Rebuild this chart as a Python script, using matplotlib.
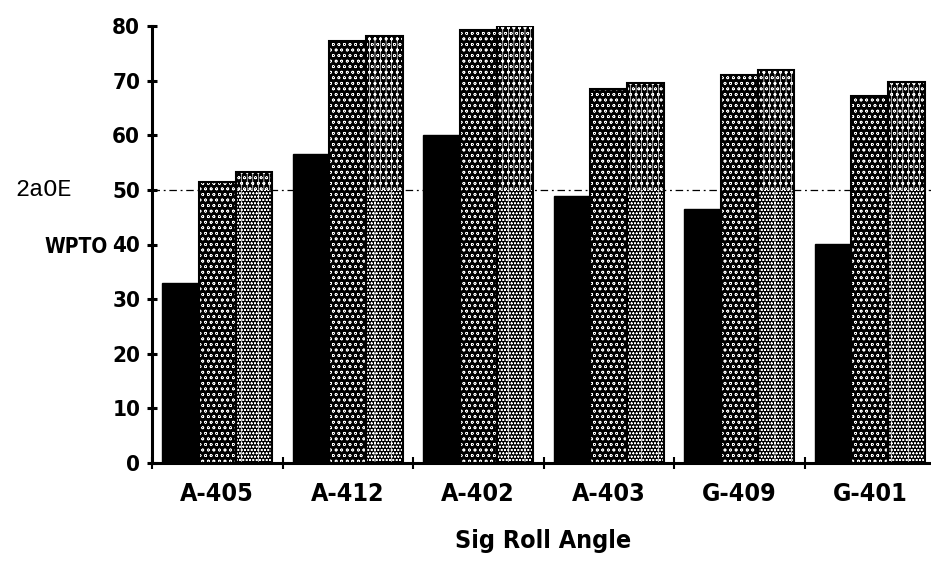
import matplotlib
matplotlib.use('Agg')
import matplotlib.pyplot as plt
import numpy as np

# values
categories = ['A-405', 'A-412', 'A-402', 'A-403', 'G-409', 'G-401']
solid_vals = [33.0, 56.6, 60.1, 48.8, 46.5, 40.1]
dark_vals = [51.5, 77.3, 79.2, 68.4, 71.1, 67.1]
light_vals = [53.2, 78.2, 80.0, 69.5, 72.0, 69.8]
ref_level = 50
ref_label = '2aOE'
y_ticks = [0, 10, 20, 30, 40, 50, 60, 70, 80]

plt.rcParams['hatch.linewidth'] = 0.45
narrow = dict(family=['Liberation Sans Narrow', 'DejaVu Sans'],
              fontweight='bold', fontstretch='condensed')

W, H = 931, 567
fig = plt.figure(figsize=(W / 100, H / 100), dpi=100)
ax = fig.add_axes([152 / W, 104 / H, 6 * 130.5 / W, 437 / H])

x = np.arange(len(categories))
bw = 0.281

# solid black bars
ax.bar(x - bw, solid_vals, bw, color='black', edgecolor='black', linewidth=1, zorder=3)

# dark dotted bars
ax.bar(x, dark_vals, bw, color='black', edgecolor='white', hatch='ooo', linewidth=0, zorder=3)
ax.bar(x, dark_vals, bw, fill=False, edgecolor='black', linewidth=1.5, zorder=4)

# light bars: streaky texture above the reference line, denser below
ax.bar(x + bw, light_vals, bw, color='black', edgecolor='white', hatch='|||ooo', linewidth=0, zorder=3)
low = np.minimum(light_vals, ref_level)
ax.bar(x + bw, low, bw, color='black', edgecolor='white', hatch='|ooooo', linewidth=0, zorder=3)
ax.bar(x + bw, light_vals, bw, fill=False, edgecolor='black', linewidth=1.5, zorder=4)

# reference line
ax.axhline(ref_level, color='black', linewidth=0.9, linestyle=(0, (6, 3, 1.5, 3)), zorder=1)

ax.set_xlim(-0.5, len(categories) - 0.5)
ax.set_ylim(0, 80)

for s in ['top', 'right']:
    ax.spines[s].set_visible(False)
for s in ['left', 'bottom']:
    ax.spines[s].set_linewidth(2.2)

ax.set_yticks(y_ticks)
ax.set_yticklabels([str(v) for v in y_ticks], fontsize=16, **narrow)
ax.tick_params(axis='y', direction='inout', length=7, width=2.2, pad=5)

ax.set_xticks(np.arange(len(categories) + 1) - 0.5)
ax.set_xticklabels([])
ax.tick_params(axis='x', which='major', direction='inout', length=9, width=1.5)
ax.set_xticks(x, minor=True)
ax.set_xticklabels(categories, minor=True, fontsize=18, **narrow)
ax.tick_params(axis='x', which='minor', length=0, pad=14)

fig.text(108 / W, 1 - 247 / H, 'WPTO', ha='right', va='center', fontsize=15, **narrow)
fig.text(44 / W, 1 - 190 / H, ref_label, ha='center', va='center', fontsize=17,
         family='Liberation Mono')
fig.text(543 / W, 1 - 541 / H, 'Sig Roll Angle', ha='center', va='center', fontsize=18, **narrow)

fig.savefig('out.png', dpi=100)
